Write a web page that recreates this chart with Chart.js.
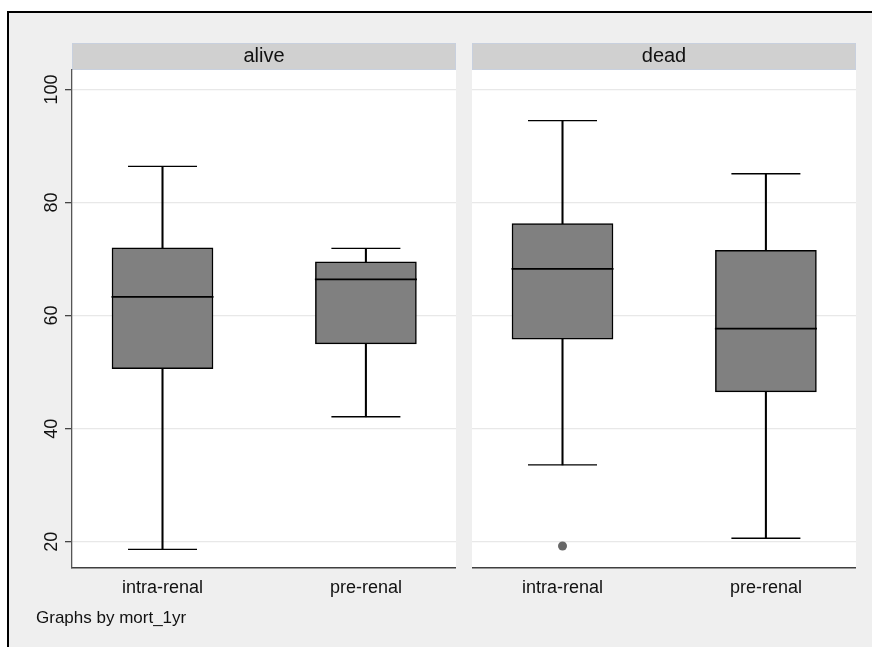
<!DOCTYPE html>
<html>
<head>
<meta charset="utf-8">
<script src="https://cdn.jsdelivr.net/npm/chart.js@4.4.0/dist/chart.umd.min.js"></script>
<style>
  html, body { margin: 0; padding: 0; background: #fff; }
  body { width: 872px; height: 647px; position: relative; overflow: hidden; font-family: "Liberation Sans", Arial, sans-serif; }
  #frame { position: absolute; left: 7px; top: 11px; width: 880px; height: 650px; border-top: 2px solid #000; border-left: 2px solid #000; background: #efefef; }
  canvas { position: absolute; }
  #alive-chart { left: 9px; top: 13px; }
  #dead-chart { left: 472px; top: 13px; }
  #note { position: absolute; left: 36px; top: 608px; font-size: 17px; line-height: 20px; color: #111; }
</style>
</head>
<body>
<div id="frame"></div>
<canvas id="alive-chart" width="447" height="597"></canvas>
<canvas id="dead-chart" width="384" height="597"></canvas>
<div id="note">Graphs by mort_1yr</div>

<script>
// categorias e valores
const categories = ['intra-renal', 'pre-renal'];
const yTicks = [20, 40, 60, 80, 100];

// painel "alive"
const aliveMin = [18.65, 42.1];
const aliveQ1 = [50.6, 55.0];
const aliveMedian = [63.3, 66.4];
const aliveQ3 = [72.0, 69.5];
const aliveMax = [86.4, 71.9];
const aliveOutliers = [null, null];

// painel "dead"
const deadMin = [33.6, 20.6];
const deadQ1 = [55.85, 46.5];
const deadMedian = [68.25, 57.7];
const deadQ3 = [76.3, 71.55];
const deadMax = [94.5, 85.1];
const deadOutliers = [19.25, null];

const FONT = '"Liberation Sans", Arial, sans-serif';
Chart.defaults.font.family = FONT;

// fundo branco da área do gráfico + faixa cinza do título
const panelBackground = {
    id: 'panelBackground',
    beforeDraw(chart) {
        const { ctx, chartArea } = chart;
        ctx.save();
        ctx.fillStyle = '#ffffff';
        ctx.fillRect(chartArea.left, chartArea.top, chartArea.width, chartArea.height);
        const tb = chart.titleBlock;
        if (tb) {
            ctx.fillStyle = '#d0d0d0';
            ctx.fillRect(chartArea.left, tb.top, chartArea.width, tb.height);
            ctx.strokeStyle = '#c8d0de';
            ctx.lineWidth = 1;
            ctx.strokeRect(chartArea.left + 0.5, tb.top + 0.5, chartArea.width - 1, tb.height - 1);
        }
        ctx.restore();
    }
};

const toPoints = arr => arr.map((v, i) => ({ x: i + 1, y: v }));

function makePanel(canvasId, title, mins, q1s, medians, q3s, maxs, outliers, showYAxis) {
    return new Chart(document.getElementById(canvasId), {
        type: 'bar',
        data: {
            datasets: [{
                // whiskers
                type: 'bar',
                data: mins.map((m, i) => ({ x: i + 1, y: [m, maxs[i]] })),
                backgroundColor: '#000000',
                borderWidth: 0,
                barThickness: 1.4,
                grouped: false,
                order: 5
            }, {
                // caixas
                type: 'bar',
                data: q1s.map((q, i) => ({ x: i + 1, y: [q, q3s[i]] })),
                backgroundColor: '#808080',
                borderColor: '#000000',
                borderWidth: 1.5,
                borderSkipped: false,
                barThickness: 101,
                grouped: false,
                order: 4
            }, {
                // medianas
                type: 'line',
                data: toPoints(medians),
                showLine: false,
                pointStyle: 'line',
                pointRadius: 51,
                borderColor: '#000000',
                pointBorderWidth: 1.7,
                order: 3
            }, {
                type: 'line',
                data: toPoints(maxs),
                showLine: false,
                pointStyle: 'line',
                pointRadius: 34.5,
                borderColor: '#000000',
                pointBorderWidth: 1.4,
                order: 2
            }, {
                type: 'line',
                data: toPoints(mins),
                showLine: false,
                pointStyle: 'line',
                pointRadius: 34.5,
                borderColor: '#000000',
                pointBorderWidth: 1.4,
                order: 2
            }, {
                // outliers
                type: 'line',
                data: toPoints(outliers),
                showLine: false,
                pointStyle: 'circle',
                pointRadius: 4.5,
                pointBackgroundColor: '#676767',
                pointBorderWidth: 0,
                borderColor: '#676767',
                order: 1
            }]
        },
        options: {
            responsive: false,
            animation: false,
            devicePixelRatio: 1,
            events: [],
            layout: { autoPadding: false, padding: { top: 30, left: 0, right: 0, bottom: 0 } },
            plugins: {
                legend: { display: false },
                tooltip: { enabled: false },
                title: {
                    display: true,
                    text: title,
                    fullSize: false,
                    color: '#111111',
                    font: { family: FONT, size: 20, weight: 'normal', lineHeight: '23px' },
                    padding: { top: 2, bottom: 2 }
                }
            },
            scales: {
                x: {
                    type: 'linear',
                    offset: false,
                    min: 0.555,
                    max: 2.443,
                    afterBuildTicks: s => { s.ticks = categories.map((c, i) => ({ value: i + 1 })); },
                    afterFit: s => { s.height = 42; },
                    ticks: {
                        callback: v => categories[Math.round(v) - 1],
                        color: '#111111',
                        font: { family: FONT, size: 18 },
                        padding: 9,
                        maxRotation: 0,
                        autoSkip: false
                    },
                    grid: { display: false, drawTicks: false },
                    border: { display: true, color: '#404040', width: 1.5 }
                },
                y: {
                    min: 15.35,
                    max: 103.45,
                    afterBuildTicks: s => { s.ticks = yTicks.map(v => ({ value: v })); },
                    afterFit: s => { s.width = showYAxis ? 63 : 0; },
                    ticks: {
                        display: showYAxis,
                        color: '#111111',
                        font: { family: FONT, size: 18 },
                        minRotation: 90,
                        maxRotation: 90,
                        crossAlign: 'center',
                        padding: -2.3
                    },
                    grid: {
                        color: '#e8e8e8',
                        lineWidth: 1.3,
                        drawTicks: showYAxis,
                        tickLength: 7,
                        tickColor: '#444444',
                        tickWidth: 1.3
                    },
                    border: { display: showYAxis, color: '#555555', width: 1.3 }
                }
            }
        },
        plugins: [panelBackground]
    });
}

makePanel('alive-chart', 'alive', aliveMin, aliveQ1, aliveMedian, aliveQ3, aliveMax, aliveOutliers, true);
makePanel('dead-chart', 'dead', deadMin, deadQ1, deadMedian, deadQ3, deadMax, deadOutliers, false);
</script>
</body>
</html>
